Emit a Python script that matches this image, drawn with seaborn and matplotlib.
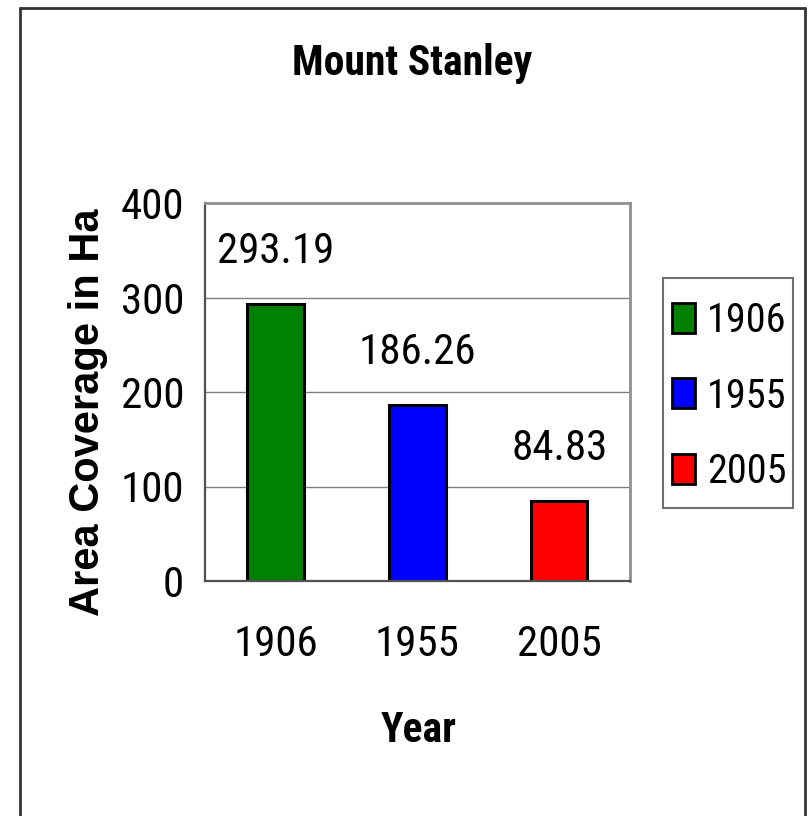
import matplotlib
matplotlib.use("Agg")
import matplotlib.pyplot as plt
from matplotlib.patches import Patch, Rectangle
from matplotlib.lines import Line2D
import seaborn as sns
import pandas as pd

years = ["1906", "1955", "2005"]
areas = [293.19, 186.26, 84.83]
colors = ["#008000", "#0000FF", "#FF0000"]
yticks = [0, 100, 200, 300, 400]
title = "Mount Stanley"
xlabel = "Year"
ylabel = "Area Coverage in Ha"

sns.set_style("white")
plt.rcParams["font.family"] = ["Roboto Condensed", "Liberation Sans", "DejaVu Sans"]
plt.rcParams["text.color"] = "black"
plt.rcParams["xtick.color"] = "black"
plt.rcParams["ytick.color"] = "black"
plt.rcParams["xtick.labelcolor"] = "black"
plt.rcParams["ytick.labelcolor"] = "black"

W, H = 810, 816
fig = plt.figure(figsize=(W / 100, H / 100), dpi=100)
ax = fig.add_axes([205 / W, 1 - 581 / H, 425 / W, 378 / H])

df = pd.DataFrame({"Year": years, "Area": areas})
sns.barplot(data=df, x="Year", y="Area", hue="Year", palette=colors, dodge=False,
            width=0.4, edgecolor="black", linewidth=2.2, legend=False, ax=ax,
            saturation=1)

ax.set_ylim(0, 400)
ax.set_xlim(-0.5, 2.5)
ax.set_yticks(yticks)
ax.set_yticklabels([str(v) for v in yticks], fontsize=31)
ax.set_xticks(range(len(years)))
ax.set_xticklabels(years, fontsize=31)
ax.set_xticks([-0.5, 0.5, 1.5, 2.5], minor=True)
ax.tick_params(axis="x", which="major", length=0, pad=31)
ax.tick_params(axis="x", which="minor", length=9, width=1, color="black", direction="out")
ax.tick_params(axis="y", which="major", length=7, width=1, color="black", direction="out", pad=8)
ax.set_xlabel("")
ax.set_ylabel("")

for y in yticks[1:-1]:
    ax.axhline(y, color="#808080", linewidth=1.0, zorder=0)

for s in ["top", "right"]:
    ax.spines[s].set_color("#909090")
    ax.spines[s].set_linewidth(2)
for s in ["left", "bottom"]:
    ax.spines[s].set_color("#505050")
    ax.spines[s].set_linewidth(1.6)
    ax.spines[s].set_visible(True)

for c in ax.containers:
    ax.bar_label(c, fmt="%.2f", padding=23, fontsize=31, color="black")

fig.text(412 / W, 1 - 75 / H, title, ha="center", va="baseline", fontsize=30, fontweight="bold")
fig.text(419 / W, 1 - 742 / H, xlabel, ha="center", va="baseline", fontsize=30, fontweight="bold")
fig.text(88 / W, 1 - 412 / H, ylabel, ha="center", va="center", rotation=90, fontsize=30,
         fontweight="bold", family=["Liberation Sans", "DejaVu Sans"])

handles = [Patch(facecolor=c, edgecolor="black", linewidth=2) for c in colors]
fig.add_artist(Rectangle((663 / W, 1 - 508 / H), 130 / W, 230 / H, transform=fig.transFigure,
                         fill=False, edgecolor="#707070", linewidth=1.5))
fig.legend(handles, years, loc="center", bbox_to_anchor=(729 / W, 1 - 396 / H),
           frameon=False, fontsize=29, handlelength=0.57, handleheight=0.77,
           handletextpad=0.3, labelspacing=0.91, borderpad=0)

fig.add_artist(Line2D([20 / W, 20 / W], [0, 1 - 8 / H], color="#333333", linewidth=2))
fig.add_artist(Line2D([20 / W, 805 / W], [1 - 8 / H, 1 - 8 / H], color="#333333", linewidth=2))
fig.add_artist(Line2D([805 / W, 805 / W], [0, 1 - 8 / H], color="#333333", linewidth=2))

fig.savefig("out.png", dpi=100)
